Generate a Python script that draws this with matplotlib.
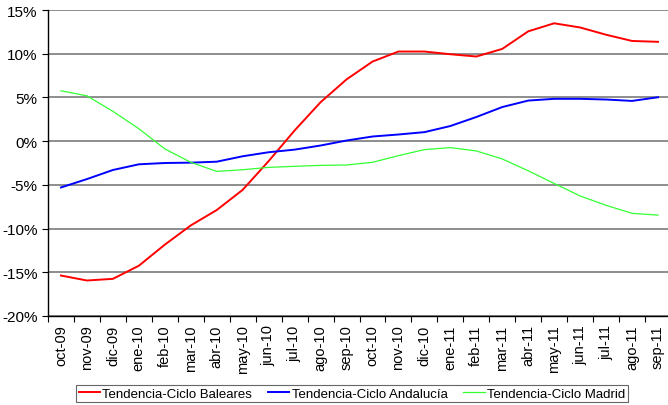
import matplotlib
matplotlib.use("Agg")
import matplotlib.pyplot as plt
from matplotlib.ticker import FuncFormatter, FixedLocator

plt.rcParams['font.family'] = ['Liberation Sans', 'DejaVu Sans']

months = ["oct-09", "nov-09", "dic-09", "ene-10", "feb-10", "mar-10", "abr-10", "may-10",
          "jun-10", "jul-10", "ago-10", "sep-10", "oct-10", "nov-10", "dic-10", "ene-11",
          "feb-11", "mar-11", "abr-11", "may-11", "jun-11", "jul-11", "ago-11", "sep-11"]

baleares = [-15.37, -15.94, -15.75, -14.25, -11.84, -9.64, -7.88, -5.57,
            -2.28, 1.22, 4.45, 7.06, 9.1, 10.25, 10.25, 9.94,
            9.68, 10.55, 12.56, 13.48, 13.0, 12.17, 11.46, 11.36]

andalucia = [-5.3, -4.34, -3.3, -2.65, -2.5, -2.46, -2.35, -1.73,
             -1.27, -0.97, -0.5, 0.07, 0.53, 0.76, 1.03, 1.73,
             2.76, 3.9, 4.64, 4.84, 4.84, 4.76, 4.6, 5.02]

madrid = [5.76, 5.18, 3.41, 1.42, -0.89, -2.42, -3.46, -3.27,
          -3.0, -2.88, -2.77, -2.73, -2.42, -1.66, -0.97, -0.74,
          -1.12, -2.04, -3.39, -4.84, -6.27, -7.34, -8.26, -8.46]

labels = ["Tendencia-Ciclo Baleares", "Tendencia-Ciclo Andalucía", "Tendencia-Ciclo Madrid"]
yticks = [-20, -15, -10, -5, 0, 5, 10, 15]

fig = plt.figure(figsize=(6.68, 4.06), dpi=100)
ax = fig.add_axes([48/668, 1-317/406, 623/668, 306/406])

x = list(range(len(months)))
ax.plot(x, baleares, color="#ff0000", lw=1.4, label=labels[0])
ax.plot(x, andalucia, color="#0000ff", lw=1.4, label=labels[1])
ax.plot(x, madrid, color="#33ff33", lw=0.9, label=labels[2])

ax.set_xlim(-0.5, len(months) - 0.5)
ax.set_ylim(-20, 15)
ax.set_yticks(yticks)
ax.yaxis.set_major_formatter(FuncFormatter(lambda v, p: f"{int(v)}%"))
ax.grid(axis="y", color="#6f6f6f", lw=1.1)
ax.set_axisbelow(True)

ax.set_xticks(x)
ax.set_xticklabels(months, rotation=90, fontsize=10.5)
ax.tick_params(axis="x", which="major", length=0, pad=6)
ax.xaxis.set_minor_locator(FixedLocator([i - 0.5 for i in range(len(months) + 1)]))
ax.tick_params(axis="x", which="minor", length=4, width=0.8, direction="out")
ax.tick_params(axis="y", length=4, width=0.8, direction="out", labelsize=11)

for s in ["top", "right"]:
    ax.spines[s].set_visible(False)
ax.spines["left"].set_color("black")
ax.spines["bottom"].set_color("black")
ax.spines["left"].set_linewidth(1.0)
ax.spines["bottom"].set_linewidth(1.0)

leg = fig.legend(loc="center", bbox_to_anchor=(352/668, 1-394.5/406), ncol=3,
                 fontsize=9.5, frameon=True, fancybox=False, handlelength=1.6,
                 columnspacing=1.2, handletextpad=0.2, borderpad=0.2)
leg.get_frame().set_edgecolor("#404040")
leg.get_frame().set_linewidth(0.8)

fig.savefig("out.png", dpi=100)
